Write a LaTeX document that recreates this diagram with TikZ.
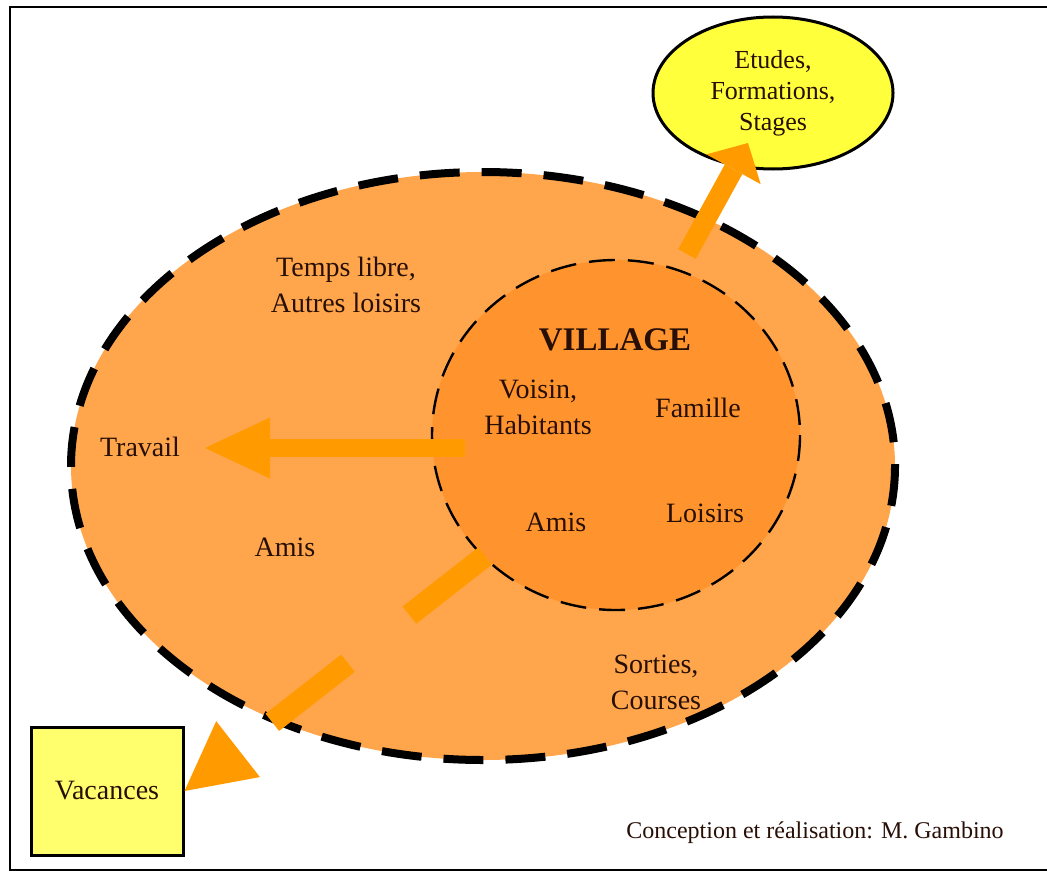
\documentclass[tikz,border=0pt]{standalone}
\usepackage{fontspec}
\setmainfont{Liberation Serif}
\usetikzlibrary{arrows.meta,shapes.geometric}
\definecolor{outerorange}{RGB}{255,166,77}
\definecolor{innerorange}{RGB}{255,148,46}
\definecolor{arroworange}{RGB}{255,155,0}
\definecolor{brightyellow}{RGB}{255,255,60}
\definecolor{paleyellow}{RGB}{255,255,110}
\definecolor{inktext}{RGB}{40,15,5}

\begin{document}
\begin{tikzpicture}[x=0.5pt, y=-0.5pt,
    txt/.style={align=center, text=inktext, font=\fontsize{14}{18}\selectfont},
    flow/.style={arroworange, line width=#1}]
  \useasboundingbox (0,0) rectangle (1047,872);
  \draw[line width=1pt] (1047,7) -- (10,7) -- (10,870) -- (1047,870);
  \draw[fill=outerorange, line width=4pt, dash pattern=on 20pt off 11pt]
    (483,466) ellipse [x radius=412, y radius=294];
  \draw[fill=innerorange, line width=1.2pt, dash pattern=on 13pt off 6.5pt]
    (616,435) ellipse [x radius=184, y radius=175];

  \node[txt] (temps) at (346,285) {Temps libre,\\Autres loisirs};
  \node[txt] (travail) at (140,447) {Travail};
  \node[txt] (amisout) at (285,547) {Amis};
  \node[txt, font=\bfseries\fontsize{16.5}{20}\selectfont] (village) at (615,340) {VILLAGE};
  \node[txt] (voisin) at (538,407) {Voisin,\\Habitants};
  \node[txt] (famille) at (698,408) {Famille};
  \node[txt] (amisin) at (556,522) {Amis};
  \node[txt] (loisirs) at (705,513) {Loisirs};
  \node[txt] (sorties) at (656,682) {Sorties,\\Courses};
  \node[txt, ellipse, draw=black, fill=brightyellow, line width=1.5pt,
    minimum width=120pt, minimum height=76pt, font=\fontsize{13}{15.5}\selectfont]
    (etudes) at (773,93) {Etudes,\\Formations,\\Stages};
  \node[txt, draw=black, fill=paleyellow, line width=1.5pt,
    minimum width=76pt, minimum height=64pt] (vacances) at (107,791) {Vacances};
  \node[text=inktext, font=\fontsize{12}{14}\selectfont] (credit) at (815,833)
    {Conception et réalisation: M. Gambino};

  \coordinate (travS) at (465,448);
  \coordinate (travE) at (205,448);
  \coordinate (vacS) at (485,556);
  \coordinate (etuS) at (687,254);
  \coordinate (etuE) at (748,143);
  \draw[flow=9pt, -{Triangle[length=32.5pt, width=30.5pt, line width=0pt]}]
    (travS) -- (travE);
  \draw[flow=11pt, dash pattern=on 48pt off 39pt,
    -{Triangle[length=34pt, width=35.5pt, line width=0pt]}]
    (vacS) -- (vacances.east);
  \draw[flow=10pt, -{Triangle[length=15pt, width=31pt, line width=0pt]}]
    (etuS) -- (etuE);
\end{tikzpicture}
\end{document}
